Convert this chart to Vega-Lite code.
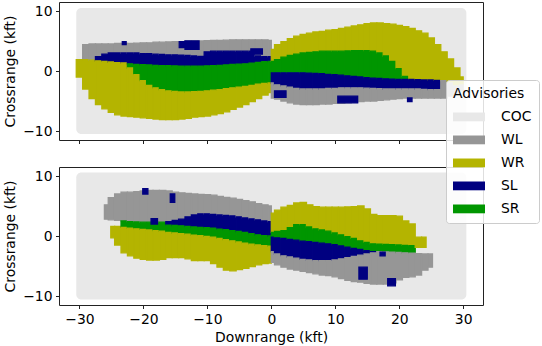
{
"$schema":"https://vega.github.io/schema/vega-lite/v6.json",
"padding":{"left":3,"top":1,"right":0,"bottom":0},
"config":{"font":"DejaVu Sans","view":{"stroke":"#222","strokeWidth":1},
"axis":{"labelFont":"DejaVu Sans","labelFontSize":13.9,"labelColor":"#000","titleFont":"DejaVu Sans","titleFontSize":13.9,"titleFontWeight":"normal","titleColor":"#000","tickColor":"#222","tickSize":3.5,"tickWidth":1,"domain":false,"grid":false,"labelPadding":3.5,"titlePadding":5},
"legend":{"titleFont":"DejaVu Sans","titleFontSize":13.9,"titleFontWeight":"normal","titleColor":"#000","labelFont":"DejaVu Sans","labelFontSize":13.9,"labelColor":"#000"}},
"spacing":27,
"bounds":"flush",
"datasets":{"d":[
{"p":"t","a":"COC","x":-30.5,"x2":30.5,"y":-10.5,"y2":10.5},
{"p":"b","a":"COC","x":-30.5,"x2":30.5,"y":-10.6,"y2":10.6},
{"p":"t","a":"WR","x":-30.5,"x2":-29.5,"y":-1.0,"y2":1.9},
{"p":"t","a":"WL","x":-29.5,"x2":-28.5,"y":1.9,"y2":4.4},{"p":"t","a":"WR","x":-29.5,"x2":-28.5,"y":-3.0,"y2":1.9},
{"p":"t","a":"WL","x":-28.5,"x2":-27.5,"y":1.8,"y2":4.5},{"p":"t","a":"WR","x":-28.5,"x2":-27.5,"y":-4.6,"y2":1.8},
{"p":"t","a":"WL","x":-27.5,"x2":-26.5,"y":2.4,"y2":4.5},{"p":"t","a":"SL","x":-27.5,"x2":-26.5,"y":1.7,"y2":2.4},{"p":"t","a":"WR","x":-27.5,"x2":-26.5,"y":-5.6,"y2":1.7},
{"p":"t","a":"WL","x":-26.5,"x2":-25.5,"y":2.8,"y2":4.5},{"p":"t","a":"SL","x":-26.5,"x2":-25.5,"y":1.6,"y2":2.8},{"p":"t","a":"WR","x":-26.5,"x2":-25.5,"y":-6.3,"y2":1.6},
{"p":"t","a":"WL","x":-25.5,"x2":-24.5,"y":3.0,"y2":4.5},{"p":"t","a":"SL","x":-25.5,"x2":-24.5,"y":1.5,"y2":3.0},{"p":"t","a":"WR","x":-25.5,"x2":-24.5,"y":-6.9,"y2":1.5},
{"p":"t","a":"WL","x":-24.5,"x2":-23.5,"y":3.0,"y2":4.6},{"p":"t","a":"SL","x":-24.5,"x2":-23.5,"y":1.4,"y2":3.0},{"p":"t","a":"WR","x":-24.5,"x2":-23.5,"y":-7.3,"y2":1.4},
{"p":"t","a":"WL","x":-23.5,"x2":-22.5,"y":3.0,"y2":4.6},{"p":"t","a":"SL","x":-23.5,"x2":-22.5,"y":1.35,"y2":3.0},{"p":"t","a":"WR","x":-23.5,"x2":-22.5,"y":-7.5,"y2":1.35},
{"p":"t","a":"WL","x":-22.5,"x2":-21.5,"y":3.0,"y2":4.6},{"p":"t","a":"SL","x":-22.5,"x2":-21.5,"y":1.2,"y2":3.0},{"p":"t","a":"SR","x":-22.5,"x2":-21.5,"y":0.5,"y2":1.2},{"p":"t","a":"WR","x":-22.5,"x2":-21.5,"y":-7.6,"y2":0.5},
{"p":"t","a":"WL","x":-21.5,"x2":-20.5,"y":3.0,"y2":4.65},{"p":"t","a":"SL","x":-21.5,"x2":-20.5,"y":1.1,"y2":3.0},{"p":"t","a":"SR","x":-21.5,"x2":-20.5,"y":-0.6,"y2":1.1},{"p":"t","a":"WR","x":-21.5,"x2":-20.5,"y":-7.7,"y2":-0.6},
{"p":"t","a":"WL","x":-20.5,"x2":-19.5,"y":2.9,"y2":4.7},{"p":"t","a":"SL","x":-20.5,"x2":-19.5,"y":1.05,"y2":2.9},{"p":"t","a":"SR","x":-20.5,"x2":-19.5,"y":-1.6,"y2":1.05},{"p":"t","a":"WR","x":-20.5,"x2":-19.5,"y":-7.8,"y2":-1.6},
{"p":"t","a":"WL","x":-19.5,"x2":-18.5,"y":2.9,"y2":4.7},{"p":"t","a":"SL","x":-19.5,"x2":-18.5,"y":1.0,"y2":2.9},{"p":"t","a":"SR","x":-19.5,"x2":-18.5,"y":-2.4,"y2":1.0},{"p":"t","a":"WR","x":-19.5,"x2":-18.5,"y":-7.9,"y2":-2.4},
{"p":"t","a":"WL","x":-18.5,"x2":-17.5,"y":2.8,"y2":4.8},{"p":"t","a":"SL","x":-18.5,"x2":-17.5,"y":0.95,"y2":2.8},{"p":"t","a":"SR","x":-18.5,"x2":-17.5,"y":-2.8,"y2":0.95},{"p":"t","a":"WR","x":-18.5,"x2":-17.5,"y":-8.0,"y2":-2.8},
{"p":"t","a":"WL","x":-17.5,"x2":-16.5,"y":2.75,"y2":4.8},{"p":"t","a":"SL","x":-17.5,"x2":-16.5,"y":0.9,"y2":2.75},{"p":"t","a":"SR","x":-17.5,"x2":-16.5,"y":-3.1,"y2":0.9},{"p":"t","a":"WR","x":-17.5,"x2":-16.5,"y":-8.1,"y2":-3.1},
{"p":"t","a":"WL","x":-16.5,"x2":-15.5,"y":2.7,"y2":4.85},{"p":"t","a":"SL","x":-16.5,"x2":-15.5,"y":0.9,"y2":2.7},{"p":"t","a":"SR","x":-16.5,"x2":-15.5,"y":-3.3,"y2":0.9},{"p":"t","a":"WR","x":-16.5,"x2":-15.5,"y":-8.1,"y2":-3.3},
{"p":"t","a":"WL","x":-15.5,"x2":-14.5,"y":2.7,"y2":4.9},{"p":"t","a":"SL","x":-15.5,"x2":-14.5,"y":0.85,"y2":2.7},{"p":"t","a":"SR","x":-15.5,"x2":-14.5,"y":-3.4,"y2":0.85},{"p":"t","a":"WR","x":-15.5,"x2":-14.5,"y":-8.1,"y2":-3.4},
{"p":"t","a":"WL","x":-14.5,"x2":-13.5,"y":2.65,"y2":4.9},{"p":"t","a":"SL","x":-14.5,"x2":-13.5,"y":0.8,"y2":2.65},{"p":"t","a":"SR","x":-14.5,"x2":-13.5,"y":-3.5,"y2":0.8},{"p":"t","a":"WR","x":-14.5,"x2":-13.5,"y":-8.0,"y2":-3.5},
{"p":"t","a":"WL","x":-13.5,"x2":-12.5,"y":2.6,"y2":5.0},{"p":"t","a":"SL","x":-13.5,"x2":-12.5,"y":0.8,"y2":2.6},{"p":"t","a":"SR","x":-13.5,"x2":-12.5,"y":-3.5,"y2":0.8},{"p":"t","a":"WR","x":-13.5,"x2":-12.5,"y":-7.9,"y2":-3.5},
{"p":"t","a":"WL","x":-12.5,"x2":-11.5,"y":2.5,"y2":5.0},{"p":"t","a":"SL","x":-12.5,"x2":-11.5,"y":0.8,"y2":2.5},{"p":"t","a":"SR","x":-12.5,"x2":-11.5,"y":-3.45,"y2":0.8},{"p":"t","a":"WR","x":-12.5,"x2":-11.5,"y":-7.7,"y2":-3.45},
{"p":"t","a":"WL","x":-11.5,"x2":-10.5,"y":2.45,"y2":5.0},{"p":"t","a":"SL","x":-11.5,"x2":-10.5,"y":0.8,"y2":2.45},{"p":"t","a":"SR","x":-11.5,"x2":-10.5,"y":-3.4,"y2":0.8},{"p":"t","a":"WR","x":-11.5,"x2":-10.5,"y":-7.6,"y2":-3.4},
{"p":"t","a":"WL","x":-10.5,"x2":-9.5,"y":3.2,"y2":5.05},{"p":"t","a":"SL","x":-10.5,"x2":-9.5,"y":0.85,"y2":3.2},{"p":"t","a":"SR","x":-10.5,"x2":-9.5,"y":-3.3,"y2":0.85},{"p":"t","a":"WR","x":-10.5,"x2":-9.5,"y":-7.5,"y2":-3.3},
{"p":"t","a":"WL","x":-9.5,"x2":-8.5,"y":3.3,"y2":5.1},{"p":"t","a":"SL","x":-9.5,"x2":-8.5,"y":0.9,"y2":3.3},{"p":"t","a":"SR","x":-9.5,"x2":-8.5,"y":-3.2,"y2":0.9},{"p":"t","a":"WR","x":-9.5,"x2":-8.5,"y":-7.3,"y2":-3.2},
{"p":"t","a":"WL","x":-8.5,"x2":-7.5,"y":3.3,"y2":5.1},{"p":"t","a":"SL","x":-8.5,"x2":-7.5,"y":0.95,"y2":3.3},{"p":"t","a":"SR","x":-8.5,"x2":-7.5,"y":-3.1,"y2":0.95},{"p":"t","a":"WR","x":-8.5,"x2":-7.5,"y":-7.1,"y2":-3.1},
{"p":"t","a":"WL","x":-7.5,"x2":-6.5,"y":3.3,"y2":5.15},{"p":"t","a":"SL","x":-7.5,"x2":-6.5,"y":1.0,"y2":3.3},{"p":"t","a":"SR","x":-7.5,"x2":-6.5,"y":-2.95,"y2":1.0},{"p":"t","a":"WR","x":-7.5,"x2":-6.5,"y":-6.8,"y2":-2.95},
{"p":"t","a":"WL","x":-6.5,"x2":-5.5,"y":3.3,"y2":5.2},{"p":"t","a":"SL","x":-6.5,"x2":-5.5,"y":1.1,"y2":3.3},{"p":"t","a":"SR","x":-6.5,"x2":-5.5,"y":-2.8,"y2":1.1},{"p":"t","a":"WR","x":-6.5,"x2":-5.5,"y":-6.4,"y2":-2.8},
{"p":"t","a":"WL","x":-5.5,"x2":-4.5,"y":3.3,"y2":5.2},{"p":"t","a":"SL","x":-5.5,"x2":-4.5,"y":1.15,"y2":3.3},{"p":"t","a":"SR","x":-5.5,"x2":-4.5,"y":-2.7,"y2":1.15},{"p":"t","a":"WR","x":-5.5,"x2":-4.5,"y":-6.0,"y2":-2.7},
{"p":"t","a":"WL","x":-4.5,"x2":-3.5,"y":3.3,"y2":5.2},{"p":"t","a":"SL","x":-4.5,"x2":-3.5,"y":1.2,"y2":3.3},{"p":"t","a":"SR","x":-4.5,"x2":-3.5,"y":-2.55,"y2":1.2},{"p":"t","a":"WR","x":-4.5,"x2":-3.5,"y":-5.6,"y2":-2.55},
{"p":"t","a":"WL","x":-3.5,"x2":-2.5,"y":3.3,"y2":5.2},{"p":"t","a":"SL","x":-3.5,"x2":-2.5,"y":1.3,"y2":3.3},{"p":"t","a":"SR","x":-3.5,"x2":-2.5,"y":-2.4,"y2":1.3},{"p":"t","a":"WR","x":-3.5,"x2":-2.5,"y":-5.1,"y2":-2.4},
{"p":"t","a":"WL","x":-2.5,"x2":-1.5,"y":2.5,"y2":5.2},{"p":"t","a":"SL","x":-2.5,"x2":-1.5,"y":1.45,"y2":2.5},{"p":"t","a":"SR","x":-2.5,"x2":-1.5,"y":-2.2,"y2":1.45},{"p":"t","a":"WR","x":-2.5,"x2":-1.5,"y":-4.6,"y2":-2.2},
{"p":"t","a":"WL","x":-1.5,"x2":-0.5,"y":2.4,"y2":5.2},{"p":"t","a":"SL","x":-1.5,"x2":-0.5,"y":1.55,"y2":2.4},{"p":"t","a":"SR","x":-1.5,"x2":-0.5,"y":-2.05,"y2":1.55},{"p":"t","a":"WR","x":-1.5,"x2":-0.5,"y":-4.0,"y2":-2.05},
{"p":"t","a":"WL","x":-0.5,"x2":0,"y":2.4,"y2":5.1},{"p":"t","a":"SL","x":-0.5,"x2":0,"y":1.6,"y2":2.4},{"p":"t","a":"SR","x":-0.5,"x2":0,"y":-2.0,"y2":1.6},{"p":"t","a":"WR","x":-0.5,"x2":0,"y":-3.6,"y2":-2.0},
{"p":"t","a":"WR","x":0,"x2":0.5,"y":1.6,"y2":3.6},{"p":"t","a":"SR","x":0,"x2":0.5,"y":-0.3,"y2":1.6},{"p":"t","a":"SL","x":0,"x2":0.5,"y":-2.0,"y2":-0.3},{"p":"t","a":"WL","x":0,"x2":0.5,"y":-4.5,"y2":-2.0},
{"p":"t","a":"WR","x":0.5,"x2":1.5,"y":1.9,"y2":4.4},{"p":"t","a":"SR","x":0.5,"x2":1.5,"y":-0.3,"y2":1.9},{"p":"t","a":"SL","x":0.5,"x2":1.5,"y":-2.3,"y2":-0.3},{"p":"t","a":"WL","x":0.5,"x2":1.5,"y":-4.7,"y2":-2.3},
{"p":"t","a":"WR","x":1.5,"x2":2.5,"y":2.3,"y2":4.9},{"p":"t","a":"SR","x":1.5,"x2":2.5,"y":-0.3,"y2":2.3},{"p":"t","a":"SL","x":1.5,"x2":2.5,"y":-2.5,"y2":-0.3},{"p":"t","a":"WL","x":1.5,"x2":2.5,"y":-5.0,"y2":-2.5},
{"p":"t","a":"WR","x":2.5,"x2":3.5,"y":2.6,"y2":5.4},{"p":"t","a":"SR","x":2.5,"x2":3.5,"y":-0.3,"y2":2.6},{"p":"t","a":"SL","x":2.5,"x2":3.5,"y":-2.7,"y2":-0.3},{"p":"t","a":"WL","x":2.5,"x2":3.5,"y":-5.3,"y2":-2.7},
{"p":"t","a":"WR","x":3.5,"x2":4.5,"y":2.8,"y2":5.8},{"p":"t","a":"SR","x":3.5,"x2":4.5,"y":-0.3,"y2":2.8},{"p":"t","a":"SL","x":3.5,"x2":4.5,"y":-2.9,"y2":-0.3},{"p":"t","a":"WL","x":3.5,"x2":4.5,"y":-5.5,"y2":-2.9},
{"p":"t","a":"WR","x":4.5,"x2":5.5,"y":3.0,"y2":6.1},{"p":"t","a":"SR","x":4.5,"x2":5.5,"y":-0.3,"y2":3.0},{"p":"t","a":"SL","x":4.5,"x2":5.5,"y":-3.0,"y2":-0.3},{"p":"t","a":"WL","x":4.5,"x2":5.5,"y":-5.6,"y2":-3.0},
{"p":"t","a":"WR","x":5.5,"x2":6.5,"y":3.1,"y2":6.3},{"p":"t","a":"SR","x":5.5,"x2":6.5,"y":-0.35,"y2":3.1},{"p":"t","a":"SL","x":5.5,"x2":6.5,"y":-3.0,"y2":-0.35},{"p":"t","a":"WL","x":5.5,"x2":6.5,"y":-5.6,"y2":-3.0},
{"p":"t","a":"WR","x":6.5,"x2":7.5,"y":3.2,"y2":6.5},{"p":"t","a":"SR","x":6.5,"x2":7.5,"y":-0.4,"y2":3.2},{"p":"t","a":"SL","x":6.5,"x2":7.5,"y":-3.0,"y2":-0.4},{"p":"t","a":"WL","x":6.5,"x2":7.5,"y":-5.6,"y2":-3.0},
{"p":"t","a":"WR","x":7.5,"x2":8.5,"y":3.3,"y2":6.6},{"p":"t","a":"SR","x":7.5,"x2":8.5,"y":-0.45,"y2":3.3},{"p":"t","a":"SL","x":7.5,"x2":8.5,"y":-3.0,"y2":-0.45},{"p":"t","a":"WL","x":7.5,"x2":8.5,"y":-5.5,"y2":-3.0},
{"p":"t","a":"WR","x":8.5,"x2":9.5,"y":3.3,"y2":6.8},{"p":"t","a":"SR","x":8.5,"x2":9.5,"y":-0.55,"y2":3.3},{"p":"t","a":"SL","x":8.5,"x2":9.5,"y":-2.9,"y2":-0.55},{"p":"t","a":"WL","x":8.5,"x2":9.5,"y":-5.5,"y2":-2.9},
{"p":"t","a":"WR","x":9.5,"x2":10.5,"y":3.3,"y2":6.9},{"p":"t","a":"SR","x":9.5,"x2":10.5,"y":-0.6,"y2":3.3},{"p":"t","a":"SL","x":9.5,"x2":10.5,"y":-2.9,"y2":-0.6},{"p":"t","a":"WL","x":9.5,"x2":10.5,"y":-5.4,"y2":-2.9},
{"p":"t","a":"WR","x":10.5,"x2":11.5,"y":3.3,"y2":7.1},{"p":"t","a":"SR","x":10.5,"x2":11.5,"y":-0.7,"y2":3.3},{"p":"t","a":"SL","x":10.5,"x2":11.5,"y":-2.8,"y2":-0.7},{"p":"t","a":"WL","x":10.5,"x2":11.5,"y":-5.4,"y2":-2.8},
{"p":"t","a":"WR","x":11.5,"x2":12.5,"y":3.35,"y2":7.3},{"p":"t","a":"SR","x":11.5,"x2":12.5,"y":-0.8,"y2":3.35},{"p":"t","a":"SL","x":11.5,"x2":12.5,"y":-2.8,"y2":-0.8},{"p":"t","a":"WL","x":11.5,"x2":12.5,"y":-5.3,"y2":-2.8},
{"p":"t","a":"WR","x":12.5,"x2":13.5,"y":3.4,"y2":7.5},{"p":"t","a":"SR","x":12.5,"x2":13.5,"y":-0.9,"y2":3.4},{"p":"t","a":"SL","x":12.5,"x2":13.5,"y":-2.8,"y2":-0.9},{"p":"t","a":"WL","x":12.5,"x2":13.5,"y":-5.2,"y2":-2.8},
{"p":"t","a":"WR","x":13.5,"x2":14.5,"y":3.4,"y2":7.7},{"p":"t","a":"SR","x":13.5,"x2":14.5,"y":-1.0,"y2":3.4},{"p":"t","a":"SL","x":13.5,"x2":14.5,"y":-2.8,"y2":-1.0},{"p":"t","a":"WL","x":13.5,"x2":14.5,"y":-5.1,"y2":-2.8},
{"p":"t","a":"WR","x":14.5,"x2":15.5,"y":3.4,"y2":7.9},{"p":"t","a":"SR","x":14.5,"x2":15.5,"y":-1.1,"y2":3.4},{"p":"t","a":"SL","x":14.5,"x2":15.5,"y":-2.85,"y2":-1.1},{"p":"t","a":"WL","x":14.5,"x2":15.5,"y":-5.0,"y2":-2.85},
{"p":"t","a":"WR","x":15.5,"x2":16.5,"y":3.3,"y2":8.0},{"p":"t","a":"SR","x":15.5,"x2":16.5,"y":-1.2,"y2":3.3},{"p":"t","a":"SL","x":15.5,"x2":16.5,"y":-2.9,"y2":-1.2},{"p":"t","a":"WL","x":15.5,"x2":16.5,"y":-5.0,"y2":-2.9},
{"p":"t","a":"WR","x":16.5,"x2":17.5,"y":3.0,"y2":8.0},{"p":"t","a":"SR","x":16.5,"x2":17.5,"y":-1.25,"y2":3.0},{"p":"t","a":"SL","x":16.5,"x2":17.5,"y":-2.95,"y2":-1.25},{"p":"t","a":"WL","x":16.5,"x2":17.5,"y":-4.9,"y2":-2.95},
{"p":"t","a":"WR","x":17.5,"x2":18.5,"y":2.5,"y2":7.9},{"p":"t","a":"SR","x":17.5,"x2":18.5,"y":-1.3,"y2":2.5},{"p":"t","a":"SL","x":17.5,"x2":18.5,"y":-3.0,"y2":-1.3},{"p":"t","a":"WL","x":17.5,"x2":18.5,"y":-4.8,"y2":-3.0},
{"p":"t","a":"WR","x":18.5,"x2":19.5,"y":1.6,"y2":7.8},{"p":"t","a":"SR","x":18.5,"x2":19.5,"y":-1.35,"y2":1.6},{"p":"t","a":"SL","x":18.5,"x2":19.5,"y":-3.0,"y2":-1.35},{"p":"t","a":"WL","x":18.5,"x2":19.5,"y":-4.7,"y2":-3.0},
{"p":"t","a":"WR","x":19.5,"x2":20.5,"y":0.4,"y2":7.6},{"p":"t","a":"SR","x":19.5,"x2":20.5,"y":-1.4,"y2":0.4},{"p":"t","a":"SL","x":19.5,"x2":20.5,"y":-3.0,"y2":-1.4},{"p":"t","a":"WL","x":19.5,"x2":20.5,"y":-4.6,"y2":-3.0},
{"p":"t","a":"WR","x":20.5,"x2":21.5,"y":-0.9,"y2":7.4},{"p":"t","a":"SR","x":20.5,"x2":21.5,"y":-1.4,"y2":-0.9},{"p":"t","a":"SL","x":20.5,"x2":21.5,"y":-3.0,"y2":-1.4},{"p":"t","a":"WL","x":20.5,"x2":21.5,"y":-4.5,"y2":-3.0},
{"p":"t","a":"WR","x":21.5,"x2":22.5,"y":-1.4,"y2":7.1},{"p":"t","a":"SL","x":21.5,"x2":22.5,"y":-3.0,"y2":-1.4},{"p":"t","a":"WL","x":21.5,"x2":22.5,"y":-4.5,"y2":-3.0},
{"p":"t","a":"WR","x":22.5,"x2":23.5,"y":-1.45,"y2":6.7},{"p":"t","a":"SL","x":22.5,"x2":23.5,"y":-3.0,"y2":-1.45},{"p":"t","a":"WL","x":22.5,"x2":23.5,"y":-4.5,"y2":-3.0},
{"p":"t","a":"WR","x":23.5,"x2":24.5,"y":-1.5,"y2":6.3},{"p":"t","a":"SL","x":23.5,"x2":24.5,"y":-3.05,"y2":-1.5},{"p":"t","a":"WL","x":23.5,"x2":24.5,"y":-4.5,"y2":-3.05},
{"p":"t","a":"WR","x":24.5,"x2":25.5,"y":-1.5,"y2":5.5},{"p":"t","a":"SL","x":24.5,"x2":25.5,"y":-3.1,"y2":-1.5},{"p":"t","a":"WL","x":24.5,"x2":25.5,"y":-4.5,"y2":-3.1},
{"p":"t","a":"WR","x":25.5,"x2":26.5,"y":-1.55,"y2":4.4},{"p":"t","a":"SL","x":25.5,"x2":26.5,"y":-3.1,"y2":-1.55},{"p":"t","a":"WL","x":25.5,"x2":26.5,"y":-4.5,"y2":-3.1},
{"p":"t","a":"WR","x":26.5,"x2":27.5,"y":-1.6,"y2":3.2},{"p":"t","a":"WL","x":26.5,"x2":27.5,"y":-4.5,"y2":-1.6},
{"p":"t","a":"WR","x":27.5,"x2":28.5,"y":-2.0,"y2":2.0},{"p":"t","a":"WL","x":27.5,"x2":28.5,"y":-4.2,"y2":-2.0},
{"p":"t","a":"WR","x":28.5,"x2":29.5,"y":-2.5,"y2":0.5},{"p":"t","a":"WL","x":28.5,"x2":29.5,"y":-3.8,"y2":-2.5},
{"p":"t","a":"WR","x":29.5,"x2":30,"y":-2.3,"y2":-1.0},{"p":"t","a":"WL","x":29.5,"x2":30,"y":-3.3,"y2":-2.3},
{"p":"t","a":"SL","x":-23.3,"x2":-22.7,"y":4.4,"y2":4.9},
{"p":"t","a":"SL","x":-14.4,"x2":-13.5,"y":3.9,"y2":4.9},
{"p":"t","a":"SL","x":-13.5,"x2":-11.3,"y":3.6,"y2":5.0},
{"p":"t","a":"SL","x":-3.2,"x2":-1.4,"y":2.8,"y2":3.7},
{"p":"t","a":"SL","x":0.5,"x2":2.3,"y":-4.4,"y2":-3.3},
{"p":"t","a":"SL","x":10.4,"x2":13.5,"y":-5.3,"y2":-4.2},
{"p":"t","a":"SL","x":21.3,"x2":22.0,"y":-5.1,"y2":-4.5},
{"p":"b","a":"WL","x":-26.1,"x2":-25.5,"y":2.8,"y2":5.2},
{"p":"b","a":"WL","x":-25.5,"x2":-24.5,"y":2.7,"y2":6.4},{"p":"b","a":"WR","x":-25.1,"x2":-24.5,"y":-0.3,"y2":1.6},
{"p":"b","a":"WL","x":-24.5,"x2":-23.5,"y":2.6,"y2":7.0},{"p":"b","a":"WR","x":-24.5,"x2":-23.5,"y":-1.5,"y2":1.6},
{"p":"b","a":"WL","x":-23.5,"x2":-22.5,"y":2.5,"y2":7.3},{"p":"b","a":"SR","x":-23.5,"x2":-22.5,"y":1.45,"y2":2.5},{"p":"b","a":"WR","x":-23.5,"x2":-22.5,"y":-2.8,"y2":1.45},
{"p":"b","a":"WL","x":-22.5,"x2":-21.5,"y":2.4,"y2":7.3},{"p":"b","a":"SR","x":-22.5,"x2":-21.5,"y":1.3,"y2":2.4},{"p":"b","a":"WR","x":-22.5,"x2":-21.5,"y":-3.3,"y2":1.3},
{"p":"b","a":"WL","x":-21.5,"x2":-20.5,"y":2.35,"y2":7.4},{"p":"b","a":"SR","x":-21.5,"x2":-20.5,"y":1.2,"y2":2.35},{"p":"b","a":"WR","x":-21.5,"x2":-20.5,"y":-3.7,"y2":1.2},
{"p":"b","a":"WL","x":-20.5,"x2":-19.5,"y":2.3,"y2":7.5},{"p":"b","a":"SR","x":-20.5,"x2":-19.5,"y":1.1,"y2":2.3},{"p":"b","a":"WR","x":-20.5,"x2":-19.5,"y":-3.9,"y2":1.1},
{"p":"b","a":"WL","x":-19.5,"x2":-18.5,"y":2.3,"y2":7.6},{"p":"b","a":"SR","x":-19.5,"x2":-18.5,"y":1.0,"y2":2.3},{"p":"b","a":"WR","x":-19.5,"x2":-18.5,"y":-4.0,"y2":1.0},
{"p":"b","a":"WL","x":-18.5,"x2":-17.5,"y":2.3,"y2":7.6},{"p":"b","a":"SR","x":-18.5,"x2":-17.5,"y":0.9,"y2":2.3},{"p":"b","a":"WR","x":-18.5,"x2":-17.5,"y":-4.0,"y2":0.9},
{"p":"b","a":"WL","x":-17.5,"x2":-16.5,"y":2.3,"y2":7.6},{"p":"b","a":"SR","x":-17.5,"x2":-16.5,"y":0.8,"y2":2.3},{"p":"b","a":"WR","x":-17.5,"x2":-16.5,"y":-3.9,"y2":0.8},
{"p":"b","a":"WL","x":-16.5,"x2":-15.5,"y":2.4,"y2":7.5},{"p":"b","a":"SL","x":-16.5,"x2":-15.5,"y":1.8,"y2":2.4},{"p":"b","a":"SR","x":-16.5,"x2":-15.5,"y":0.6,"y2":1.8},{"p":"b","a":"WR","x":-16.5,"x2":-15.5,"y":-3.6,"y2":0.6},
{"p":"b","a":"WL","x":-15.5,"x2":-14.5,"y":2.6,"y2":7.3},{"p":"b","a":"SL","x":-15.5,"x2":-14.5,"y":1.75,"y2":2.6},{"p":"b","a":"SR","x":-15.5,"x2":-14.5,"y":0.5,"y2":1.75},{"p":"b","a":"WR","x":-15.5,"x2":-14.5,"y":-3.6,"y2":0.5},
{"p":"b","a":"WL","x":-14.5,"x2":-13.5,"y":2.8,"y2":7.2},{"p":"b","a":"SL","x":-14.5,"x2":-13.5,"y":1.7,"y2":2.8},{"p":"b","a":"SR","x":-14.5,"x2":-13.5,"y":0.4,"y2":1.7},{"p":"b","a":"WR","x":-14.5,"x2":-13.5,"y":-3.6,"y2":0.4},
{"p":"b","a":"WL","x":-13.5,"x2":-12.5,"y":3.2,"y2":7.1},{"p":"b","a":"SL","x":-13.5,"x2":-12.5,"y":1.6,"y2":3.2},{"p":"b","a":"SR","x":-13.5,"x2":-12.5,"y":0.3,"y2":1.6},{"p":"b","a":"WR","x":-13.5,"x2":-12.5,"y":-3.8,"y2":0.3},
{"p":"b","a":"WL","x":-12.5,"x2":-11.5,"y":3.5,"y2":7.0},{"p":"b","a":"SL","x":-12.5,"x2":-11.5,"y":1.5,"y2":3.5},{"p":"b","a":"SR","x":-12.5,"x2":-11.5,"y":0.15,"y2":1.5},{"p":"b","a":"WR","x":-12.5,"x2":-11.5,"y":-4.1,"y2":0.15},
{"p":"b","a":"WL","x":-11.5,"x2":-10.5,"y":3.7,"y2":6.95},{"p":"b","a":"SL","x":-11.5,"x2":-10.5,"y":1.45,"y2":3.7},{"p":"b","a":"SR","x":-11.5,"x2":-10.5,"y":0.05,"y2":1.45},{"p":"b","a":"WR","x":-11.5,"x2":-10.5,"y":-4.1,"y2":0.05},
{"p":"b","a":"WL","x":-10.5,"x2":-9.5,"y":3.7,"y2":6.9},{"p":"b","a":"SL","x":-10.5,"x2":-9.5,"y":1.4,"y2":3.7},{"p":"b","a":"SR","x":-10.5,"x2":-9.5,"y":-0.05,"y2":1.4},{"p":"b","a":"WR","x":-10.5,"x2":-9.5,"y":-4.1,"y2":-0.05},
{"p":"b","a":"WL","x":-9.5,"x2":-8.5,"y":3.6,"y2":6.8},{"p":"b","a":"SL","x":-9.5,"x2":-8.5,"y":1.3,"y2":3.6},{"p":"b","a":"SR","x":-9.5,"x2":-8.5,"y":-0.2,"y2":1.3},{"p":"b","a":"WR","x":-9.5,"x2":-8.5,"y":-4.6,"y2":-0.2},
{"p":"b","a":"WL","x":-8.5,"x2":-7.5,"y":3.5,"y2":6.6},{"p":"b","a":"SL","x":-8.5,"x2":-7.5,"y":1.15,"y2":3.5},{"p":"b","a":"SR","x":-8.5,"x2":-7.5,"y":-0.4,"y2":1.15},{"p":"b","a":"WR","x":-8.5,"x2":-7.5,"y":-5.2,"y2":-0.4},
{"p":"b","a":"WL","x":-7.5,"x2":-6.5,"y":3.45,"y2":6.45},{"p":"b","a":"SL","x":-7.5,"x2":-6.5,"y":1.05,"y2":3.45},{"p":"b","a":"SR","x":-7.5,"x2":-6.5,"y":-0.6,"y2":1.05},{"p":"b","a":"WR","x":-7.5,"x2":-6.5,"y":-5.7,"y2":-0.6},
{"p":"b","a":"WL","x":-6.5,"x2":-5.5,"y":3.35,"y2":6.3},{"p":"b","a":"SL","x":-6.5,"x2":-5.5,"y":0.9,"y2":3.35},{"p":"b","a":"SR","x":-6.5,"x2":-5.5,"y":-0.8,"y2":0.9},{"p":"b","a":"WR","x":-6.5,"x2":-5.5,"y":-5.8,"y2":-0.8},
{"p":"b","a":"WL","x":-5.5,"x2":-4.5,"y":3.2,"y2":6.1},{"p":"b","a":"SL","x":-5.5,"x2":-4.5,"y":0.75,"y2":3.2},{"p":"b","a":"SR","x":-5.5,"x2":-4.5,"y":-1.0,"y2":0.75},{"p":"b","a":"WR","x":-5.5,"x2":-4.5,"y":-5.6,"y2":-1.0},
{"p":"b","a":"WL","x":-4.5,"x2":-3.5,"y":3.0,"y2":5.9},{"p":"b","a":"SL","x":-4.5,"x2":-3.5,"y":0.6,"y2":3.0},{"p":"b","a":"SR","x":-4.5,"x2":-3.5,"y":-1.2,"y2":0.6},{"p":"b","a":"WR","x":-4.5,"x2":-3.5,"y":-5.4,"y2":-1.2},
{"p":"b","a":"WL","x":-3.5,"x2":-2.5,"y":2.85,"y2":5.7},{"p":"b","a":"SL","x":-3.5,"x2":-2.5,"y":0.4,"y2":2.85},{"p":"b","a":"SR","x":-3.5,"x2":-2.5,"y":-1.35,"y2":0.4},{"p":"b","a":"WR","x":-3.5,"x2":-2.5,"y":-5.1,"y2":-1.35},
{"p":"b","a":"WL","x":-2.5,"x2":-1.5,"y":2.7,"y2":5.4},{"p":"b","a":"SL","x":-2.5,"x2":-1.5,"y":0.2,"y2":2.7},{"p":"b","a":"SR","x":-2.5,"x2":-1.5,"y":-1.5,"y2":0.2},{"p":"b","a":"WR","x":-2.5,"x2":-1.5,"y":-4.8,"y2":-1.5},
{"p":"b","a":"WL","x":-1.5,"x2":-0.5,"y":2.5,"y2":5.2},{"p":"b","a":"SL","x":-1.5,"x2":-0.5,"y":0.05,"y2":2.5},{"p":"b","a":"SR","x":-1.5,"x2":-0.5,"y":-1.6,"y2":0.05},{"p":"b","a":"WR","x":-1.5,"x2":-0.5,"y":-4.6,"y2":-1.6},
{"p":"b","a":"WL","x":-0.5,"x2":0,"y":2.4,"y2":5.0},{"p":"b","a":"SL","x":-0.5,"x2":0,"y":0.0,"y2":2.4},{"p":"b","a":"SR","x":-0.5,"x2":0,"y":-1.7,"y2":0.0},{"p":"b","a":"WR","x":-0.5,"x2":0,"y":-4.5,"y2":-1.7},
{"p":"b","a":"WR","x":0,"x2":0.5,"y":0.6,"y2":3.8},{"p":"b","a":"SR","x":0,"x2":0.5,"y":-0.2,"y2":0.6},{"p":"b","a":"SL","x":0,"x2":0.5,"y":-2.6,"y2":-0.2},{"p":"b","a":"WL","x":0,"x2":0.5,"y":-4.4,"y2":-2.6},
{"p":"b","a":"WR","x":0.5,"x2":1.5,"y":0.75,"y2":4.3},{"p":"b","a":"SR","x":0.5,"x2":1.5,"y":-0.3,"y2":0.75},{"p":"b","a":"SL","x":0.5,"x2":1.5,"y":-3.0,"y2":-0.3},{"p":"b","a":"WL","x":0.5,"x2":1.5,"y":-4.8,"y2":-3.0},
{"p":"b","a":"WR","x":1.5,"x2":2.5,"y":0.9,"y2":4.8},{"p":"b","a":"SR","x":1.5,"x2":2.5,"y":-0.4,"y2":0.9},{"p":"b","a":"SL","x":1.5,"x2":2.5,"y":-3.3,"y2":-0.4},{"p":"b","a":"WL","x":1.5,"x2":2.5,"y":-5.2,"y2":-3.3},
{"p":"b","a":"WR","x":2.5,"x2":3.5,"y":1.4,"y2":5.1},{"p":"b","a":"SR","x":2.5,"x2":3.5,"y":-0.55,"y2":1.4},{"p":"b","a":"SL","x":2.5,"x2":3.5,"y":-3.5,"y2":-0.55},{"p":"b","a":"WL","x":2.5,"x2":3.5,"y":-5.5,"y2":-3.5},
{"p":"b","a":"WR","x":3.5,"x2":4.5,"y":1.9,"y2":5.5},{"p":"b","a":"SR","x":3.5,"x2":4.5,"y":-0.7,"y2":1.9},{"p":"b","a":"SL","x":3.5,"x2":4.5,"y":-3.7,"y2":-0.7},{"p":"b","a":"WL","x":3.5,"x2":4.5,"y":-5.7,"y2":-3.7},
{"p":"b","a":"WR","x":4.5,"x2":5.5,"y":1.9,"y2":5.6},{"p":"b","a":"SR","x":4.5,"x2":5.5,"y":-0.85,"y2":1.9},{"p":"b","a":"SL","x":4.5,"x2":5.5,"y":-3.9,"y2":-0.85},{"p":"b","a":"WL","x":4.5,"x2":5.5,"y":-5.9,"y2":-3.9},
{"p":"b","a":"WR","x":5.5,"x2":6.5,"y":1.5,"y2":5.2},{"p":"b","a":"SR","x":5.5,"x2":6.5,"y":-0.95,"y2":1.5},{"p":"b","a":"SL","x":5.5,"x2":6.5,"y":-4.0,"y2":-0.95},{"p":"b","a":"WL","x":5.5,"x2":6.5,"y":-6.1,"y2":-4.0},
{"p":"b","a":"WR","x":6.5,"x2":7.5,"y":1.2,"y2":4.9},{"p":"b","a":"SR","x":6.5,"x2":7.5,"y":-1.05,"y2":1.2},{"p":"b","a":"SL","x":6.5,"x2":7.5,"y":-4.1,"y2":-1.05},{"p":"b","a":"WL","x":6.5,"x2":7.5,"y":-6.3,"y2":-4.1},
{"p":"b","a":"WR","x":7.5,"x2":8.5,"y":1.0,"y2":4.8},{"p":"b","a":"SR","x":7.5,"x2":8.5,"y":-1.2,"y2":1.0},{"p":"b","a":"SL","x":7.5,"x2":8.5,"y":-4.1,"y2":-1.2},{"p":"b","a":"WL","x":7.5,"x2":8.5,"y":-6.5,"y2":-4.1},
{"p":"b","a":"WR","x":8.5,"x2":9.5,"y":0.8,"y2":4.8},{"p":"b","a":"SR","x":8.5,"x2":9.5,"y":-1.3,"y2":0.8},{"p":"b","a":"SL","x":8.5,"x2":9.5,"y":-4.1,"y2":-1.3},{"p":"b","a":"WL","x":8.5,"x2":9.5,"y":-6.6,"y2":-4.1},
{"p":"b","a":"WR","x":9.5,"x2":10.5,"y":0.5,"y2":4.8},{"p":"b","a":"SR","x":9.5,"x2":10.5,"y":-1.45,"y2":0.5},{"p":"b","a":"SL","x":9.5,"x2":10.5,"y":-4.0,"y2":-1.45},{"p":"b","a":"WL","x":9.5,"x2":10.5,"y":-6.8,"y2":-4.0},
{"p":"b","a":"WR","x":10.5,"x2":11.5,"y":0.2,"y2":4.8},{"p":"b","a":"SR","x":10.5,"x2":11.5,"y":-1.65,"y2":0.2},{"p":"b","a":"SL","x":10.5,"x2":11.5,"y":-3.8,"y2":-1.65},{"p":"b","a":"WL","x":10.5,"x2":11.5,"y":-7.1,"y2":-3.8},
{"p":"b","a":"WR","x":11.5,"x2":12.5,"y":-0.1,"y2":4.85},{"p":"b","a":"SR","x":11.5,"x2":12.5,"y":-1.85,"y2":-0.1},{"p":"b","a":"SL","x":11.5,"x2":12.5,"y":-3.6,"y2":-1.85},{"p":"b","a":"WL","x":11.5,"x2":12.5,"y":-7.4,"y2":-3.6},
{"p":"b","a":"WR","x":12.5,"x2":13.5,"y":-0.4,"y2":4.9},{"p":"b","a":"SR","x":12.5,"x2":13.5,"y":-2.05,"y2":-0.4},{"p":"b","a":"SL","x":12.5,"x2":13.5,"y":-3.4,"y2":-2.05},{"p":"b","a":"WL","x":12.5,"x2":13.5,"y":-7.6,"y2":-3.4},
{"p":"b","a":"WR","x":13.5,"x2":14.5,"y":-0.8,"y2":5.0},{"p":"b","a":"SR","x":13.5,"x2":14.5,"y":-2.25,"y2":-0.8},{"p":"b","a":"SL","x":13.5,"x2":14.5,"y":-3.2,"y2":-2.25},{"p":"b","a":"WL","x":13.5,"x2":14.5,"y":-7.7,"y2":-3.2},
{"p":"b","a":"WR","x":14.5,"x2":15.5,"y":-1.05,"y2":4.5},{"p":"b","a":"SR","x":14.5,"x2":15.5,"y":-2.45,"y2":-1.05},{"p":"b","a":"SL","x":14.5,"x2":15.5,"y":-3.0,"y2":-2.45},{"p":"b","a":"WL","x":14.5,"x2":15.5,"y":-7.9,"y2":-3.0},
{"p":"b","a":"WR","x":15.5,"x2":16.5,"y":-1.3,"y2":3.6},{"p":"b","a":"SR","x":15.5,"x2":16.5,"y":-2.6,"y2":-1.3},{"p":"b","a":"SL","x":15.5,"x2":16.5,"y":-2.8,"y2":-2.6},{"p":"b","a":"WL","x":15.5,"x2":16.5,"y":-8.0,"y2":-2.8},
{"p":"b","a":"WR","x":16.5,"x2":17.5,"y":-1.35,"y2":3.4},{"p":"b","a":"SR","x":16.5,"x2":17.5,"y":-2.6,"y2":-1.35},{"p":"b","a":"WL","x":16.5,"x2":17.5,"y":-8.0,"y2":-2.6},
{"p":"b","a":"WR","x":17.5,"x2":18.5,"y":-1.4,"y2":3.4},{"p":"b","a":"SR","x":17.5,"x2":18.5,"y":-2.65,"y2":-1.4},{"p":"b","a":"WL","x":17.5,"x2":18.5,"y":-8.0,"y2":-2.65},
{"p":"b","a":"WR","x":18.5,"x2":19.5,"y":-1.45,"y2":3.4},{"p":"b","a":"SR","x":18.5,"x2":19.5,"y":-2.7,"y2":-1.45},{"p":"b","a":"WL","x":18.5,"x2":19.5,"y":-7.8,"y2":-2.7},
{"p":"b","a":"WR","x":19.5,"x2":20.5,"y":-1.5,"y2":3.3},{"p":"b","a":"SR","x":19.5,"x2":20.5,"y":-2.75,"y2":-1.5},{"p":"b","a":"WL","x":19.5,"x2":20.5,"y":-7.3,"y2":-2.75},
{"p":"b","a":"WR","x":20.5,"x2":21.5,"y":-1.55,"y2":2.5},{"p":"b","a":"SR","x":20.5,"x2":21.5,"y":-2.8,"y2":-1.55},{"p":"b","a":"WL","x":20.5,"x2":21.5,"y":-6.9,"y2":-2.8},
{"p":"b","a":"WR","x":21.5,"x2":22.5,"y":-1.6,"y2":2.0},{"p":"b","a":"SR","x":21.5,"x2":22.5,"y":-2.85,"y2":-1.6},{"p":"b","a":"WL","x":21.5,"x2":22.5,"y":-6.8,"y2":-2.85},
{"p":"b","a":"WR","x":22.5,"x2":23.5,"y":-1.9,"y2":-0.2},{"p":"b","a":"WL","x":22.5,"x2":23.5,"y":-6.5,"y2":-2.95},
{"p":"b","a":"WR","x":23.5,"x2":24.2,"y":-1.9,"y2":-0.2},{"p":"b","a":"WL","x":23.5,"x2":24.5,"y":-5.7,"y2":-3.0},
{"p":"b","a":"WL","x":24.5,"x2":25.2,"y":-5.2,"y2":-3.0},
{"p":"b","a":"SL","x":-20.1,"x2":-19.3,"y":7.0,"y2":7.9},
{"p":"b","a":"SL","x":-15.8,"x2":-15.1,"y":5.6,"y2":7.0},
{"p":"b","a":"SL","x":-18.8,"x2":-17.8,"y":2.0,"y2":2.9},
{"p":"b","a":"SL","x":17.0,"x2":17.8,"y":-3.3,"y2":-2.7},
{"p":"b","a":"SL","x":13.7,"x2":15.0,"y":-7.2,"y2":-5.2},
{"p":"b","a":"SL","x":18.2,"x2":19.4,"y":-8.3,"y2":-7.1}
]},
"vconcat":[
{"width":424,"height":138,"data":{"name":"d"},"transform":[{"filter":"datum.p==='t'"}],
"layer":[
{"transform":[{"filter":"datum.a==='COC'"}],"mark":{"type":"rect","cornerRadius":5},
"encoding":{"x":{"field":"x","type":"quantitative","scale":{"domain":[-33.2,33.1],"nice":false,"zero":false},"axis":{"values":[-30,-20,-10,0,10,20,30],"labels":false,"title":null}},"x2":{"field":"x2"},
"y":{"field":"y","type":"quantitative","scale":{"domain":[-11.5,11.5],"nice":false,"zero":false},"axis":{"values":[-10,0,10],"title":"Crossrange (kft)"}},"y2":{"field":"y2"},
"color":{"field":"a","type":"nominal","scale":{"domain":["COC","WL","WR","SL","SR"],"range":["#e8e8e8","#969696","#b4b400","#000080","#009600"]},"legend":{"title":"Advisories","orient":"none","legendX":387,"legendY":78,"symbolType":"M-1,-0.55H3V0.55H-1Z","symbolSize":256,"symbolStrokeWidth":0,"labelOffset":32,"rowPadding":8,"padding":7,"titlePadding":8,"fillColor":"rgba(255,255,255,0.85)","strokeColor":"#cccccc","cornerRadius":3}}}},
{"transform":[{"filter":"datum.a!=='COC'"}],"mark":{"type":"rect","strokeWidth":1.3,"strokeOpacity":1},
"encoding":{"x":{"field":"x","type":"quantitative"},"x2":{"field":"x2"},"y":{"field":"y","type":"quantitative"},"y2":{"field":"y2"},
"color":{"field":"a","type":"nominal"},
"stroke":{"field":"a","type":"nominal","scale":{"domain":["COC","WL","WR","SL","SR"],"range":["#e8e8e8","#969696","#b4b400","#000080","#009600"]},"legend":null}}}
]},
{"width":424,"height":138,"data":{"name":"d"},"transform":[{"filter":"datum.p==='b'"}],
"layer":[
{"transform":[{"filter":"datum.a==='COC'"}],"mark":{"type":"rect","cornerRadius":5},
"encoding":{"x":{"field":"x","type":"quantitative","scale":{"domain":[-33.2,33.1],"nice":false,"zero":false},"axis":{"values":[-30,-20,-10,0,10,20,30],"title":"Downrange (kft)"}},"x2":{"field":"x2"},
"y":{"field":"y","type":"quantitative","scale":{"domain":[-11.5,11.5],"nice":false,"zero":false},"axis":{"values":[-10,0,10],"title":"Crossrange (kft)"}},"y2":{"field":"y2"},
"color":{"field":"a","type":"nominal"}}},
{"transform":[{"filter":"datum.a!=='COC'"}],"mark":{"type":"rect","strokeWidth":1.3,"strokeOpacity":1},
"encoding":{"x":{"field":"x","type":"quantitative"},"x2":{"field":"x2"},"y":{"field":"y","type":"quantitative"},"y2":{"field":"y2"},
"color":{"field":"a","type":"nominal"},
"stroke":{"field":"a","type":"nominal","legend":null}}}
]}
]
}
